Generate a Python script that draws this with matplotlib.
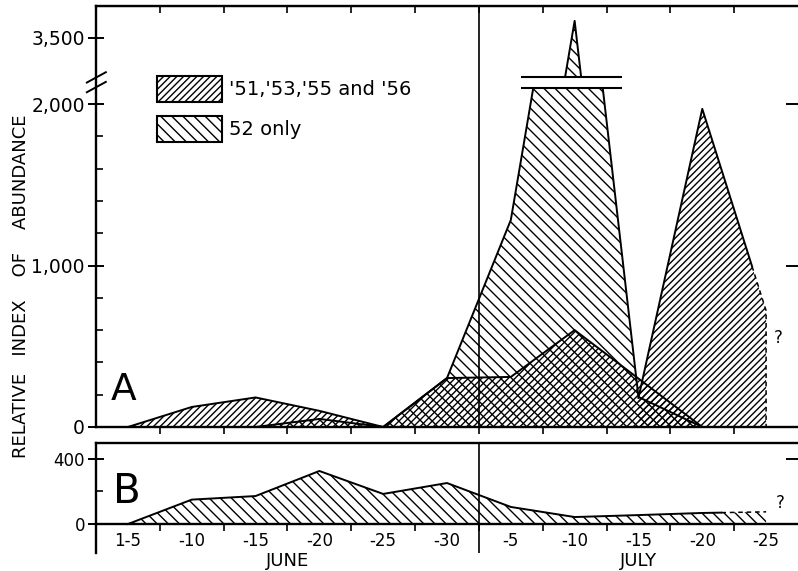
import numpy as np
import matplotlib
matplotlib.use('Agg')
import matplotlib.pyplot as plt
import matplotlib.transforms as mtransforms
from matplotlib.patches import Patch, Rectangle

plt.rcParams['font.family'] = 'DejaVu Sans'
plt.rcParams['hatch.linewidth'] = 1.0

# five-day periods, June 1-5 ... July 21-25
periods = ['1-5', '-10', '-15', '-20', '-25', '-30',
           '-5', '-10', '-15', '-20', '-25']
months = ['JUNE', 'JULY']
month_first = [0, 6]
month_last = [5, 10]
x = np.arange(len(periods))

# A - '51, '53, '55 and '56 (one hump per year)
june_hump = [0, 124, 183, 100, 0]             # periods 0-4
july_hump = [0, 303, 310, 600, 300, 0]        # periods 4-9
july_peak = [180, 1970, 720]                  # periods 8-10, last one doubtful
# A - 52 only
a52 = np.array([0, 0, 0, 50, 0, 303, 1282, 3605, 186, 0, 0])
# B - 52 only
b52 = [0, 150, 172, 326, 185, 252, 105, 43, 55, 68, 75]

# broken y axis of panel A
BREAK_LO = 2100
BREAK_HI = 3260
SHIFT = 1090

H51 = '/////'
H52 = '\\\\\\'
LW = 1.4

fig = plt.figure(figsize=(7.98, 5.71), dpi=100)
axA = fig.add_axes([96/798, 1-427/571, 702/798, 421/571])
axB = fig.add_axes([96/798, 1-553/571, 702/798, 110/571])


def hatched(ax, xs, ys, hatch):
    return ax.fill_between(xs, 0, ys, facecolor='none', edgecolor='black',
                           hatch=hatch, linewidth=0)


# ---- panel A ----
hatched(axA, x[0:5], june_hump, H51)
axA.plot(x[0:5], june_hump, color='k', lw=LW)
hatched(axA, x[4:10], july_hump, H51)
axA.plot(x[4:10], july_hump, color='k', lw=LW)

hatched(axA, x[8:11], july_peak, H51)
xd = 9.78
yd = np.interp(xd, x[9:11], july_peak[1:])
axA.plot([x[8], x[9], xd], [july_peak[0], july_peak[1], yd], color='k', lw=LW)
axA.plot([xd, x[10], x[10]], [yd, july_peak[2], 0], color='k', lw=1.1,
         ls=(0, (3, 2.5)))

lo_clip = Rectangle((-1, -100), 13, BREAK_LO + 100, transform=axA.transData)
hi_clip = Rectangle((-1, BREAK_HI - SHIFT), 13, 5000, transform=axA.transData)
p = hatched(axA, x, a52, H52)
p.set_clip_path(lo_clip)
ln, = axA.plot(x, a52, color='k', lw=LW)
ln.set_clip_path(lo_clip)
p = hatched(axA, x, a52 - SHIFT, H52)
p.set_clip_path(hi_clip)
ln, = axA.plot(x, a52 - SHIFT, color='k', lw=LW)
ln.set_clip_path(hi_clip)

k = int(np.argmax(a52))
xl = np.interp(BREAK_LO, a52[k-1:k+1], x[k-1:k+1])
xr = np.interp(BREAK_LO, a52[k:k+2][::-1], x[k:k+2][::-1])
axA.hlines([BREAK_LO, BREAK_HI - SHIFT], xl - 0.2, xr + 0.3, color='k', lw=1.5)

axA.text(x[-1] + 0.12, july_peak[-1] - 200, '?', fontsize=12)
axA.text(0.021, 0.064, 'A', transform=axA.transAxes, fontsize=27,
         ha='left', va='baseline')

axA.set_xlim(-0.5, 10.5)
axA.set_ylim(0, 2607)
axA.set_yticks([0, 1000, 2000, 3500 - SHIFT], ['0', '1,000', '2,000', '3,500'])
axA.set_yticks([200, 400, 600, 800, 1200, 1400, 1600, 1800], minor=True)
axA.tick_params(axis='y', which='major', direction='inout', length=12,
                width=1.4, labelsize=13.5, pad=2)
axA.tick_params(axis='y', which='minor', direction='in', length=5, width=1.2)
axA.set_xticks(x[:-1] + 0.5)
axA.tick_params(axis='x', direction='out', length=5, width=1.2,
                labelbottom=False)
axA.spines['right'].set_visible(False)
for s in ['left', 'top', 'bottom']:
    axA.spines[s].set_linewidth(1.7)

topA = axA.secondary_xaxis('top')
topA.set_xticks(x[:-1] + 0.5)
topA.tick_params(direction='in', length=5, width=1.2, labeltop=False)
rightA = axA.secondary_yaxis('right')
rightA.set_yticks([1000, 2000])
rightA.tick_params(direction='in', length=9, width=1.4, labelright=False)
rightA.spines['right'].set_visible(False)

# break marks on the y axis
yc = (BREAK_LO + BREAK_HI - SHIFT) / 2
blend = mtransforms.blended_transform_factory(axA.transAxes, axA.transData)
for off in (-30, 30):
    axA.plot([-0.013, 0.014], [yc + off - 32, yc + off + 32], color='k',
             lw=1.4, transform=blend, clip_on=False)

handles = [Patch(facecolor='white', edgecolor='black', hatch=H51, lw=1.5,
                 label="'51,'53,'55 and '56"),
           Patch(facecolor='white', edgecolor='black', hatch=H52, lw=1.5,
                 label='52 only')]
fig.legend(handles=handles, loc='upper left',
           bbox_to_anchor=(157/798, 1-76/571), frameon=False, fontsize=14,
           handlelength=3.35, handleheight=1.65, handletextpad=0.36,
           labelspacing=0.75, borderpad=0, borderaxespad=0)

# ---- panel B ----
hatched(axB, x, b52, H52)
xb = 9.3
yb = np.interp(xb, x, b52)
axB.plot(np.r_[x[x < xb], xb], np.r_[np.array(b52)[x < xb], yb], color='k', lw=LW)
axB.plot(np.r_[xb, x[x > xb]], np.r_[yb, np.array(b52)[x > xb]], color='k',
         lw=1.1, ls=(0, (3, 2.5)))
axB.text(x[-1] + 0.15, b52[-1], '?', fontsize=12, va='bottom')
axB.text(0.024, 0.4545, 'B', transform=axB.transAxes, fontsize=29,
         ha='left', va='baseline')

axB.set_xlim(-0.5, 10.5)
axB.set_ylim(-178, 498)
axB.spines['bottom'].set_position(('data', 0))
axB.spines['right'].set_visible(False)
for s in ['left', 'top', 'bottom']:
    axB.spines[s].set_linewidth(1.7)
axB.set_yticks([0, 400], ['0', '400'])
axB.set_yticks([200], minor=True)
axB.tick_params(axis='y', which='major', direction='inout', length=12,
                width=1.4, labelsize=12, pad=2)
axB.tick_params(axis='y', which='minor', direction='in', length=5, width=1.2)
axB.set_xticks(x[:-1] + 0.5)
axB.set_xticks(x, periods, minor=True)
axB.tick_params(axis='x', which='major', direction='out', length=5, width=1.2,
                labelbottom=False)
axB.tick_params(axis='x', which='minor', length=0, pad=6, labelsize=12)
rightB = axB.secondary_yaxis('right')
rightB.set_yticks([400])
rightB.tick_params(direction='in', length=9, width=1.4, labelright=False)
rightB.spines['right'].set_visible(False)

bblend = mtransforms.blended_transform_factory(axB.transData, axB.transAxes)
for m, a, b in zip(months, month_first, month_last):
    axB.text((a + b) / 2, -0.07, m, transform=bblend, fontsize=13,
             ha='center', va='center', clip_on=False)

# June / July divider
for ax in (axA, axB):
    ax.axvline(month_last[0] + 0.5, color='k', lw=1.2)

fig.text(21/798, 1-286/571, 'RELATIVE   INDEX    OF    ABUNDANCE',
         rotation=90, fontsize=13, ha='center', va='center')

fig.savefig('out.png', dpi=100)
